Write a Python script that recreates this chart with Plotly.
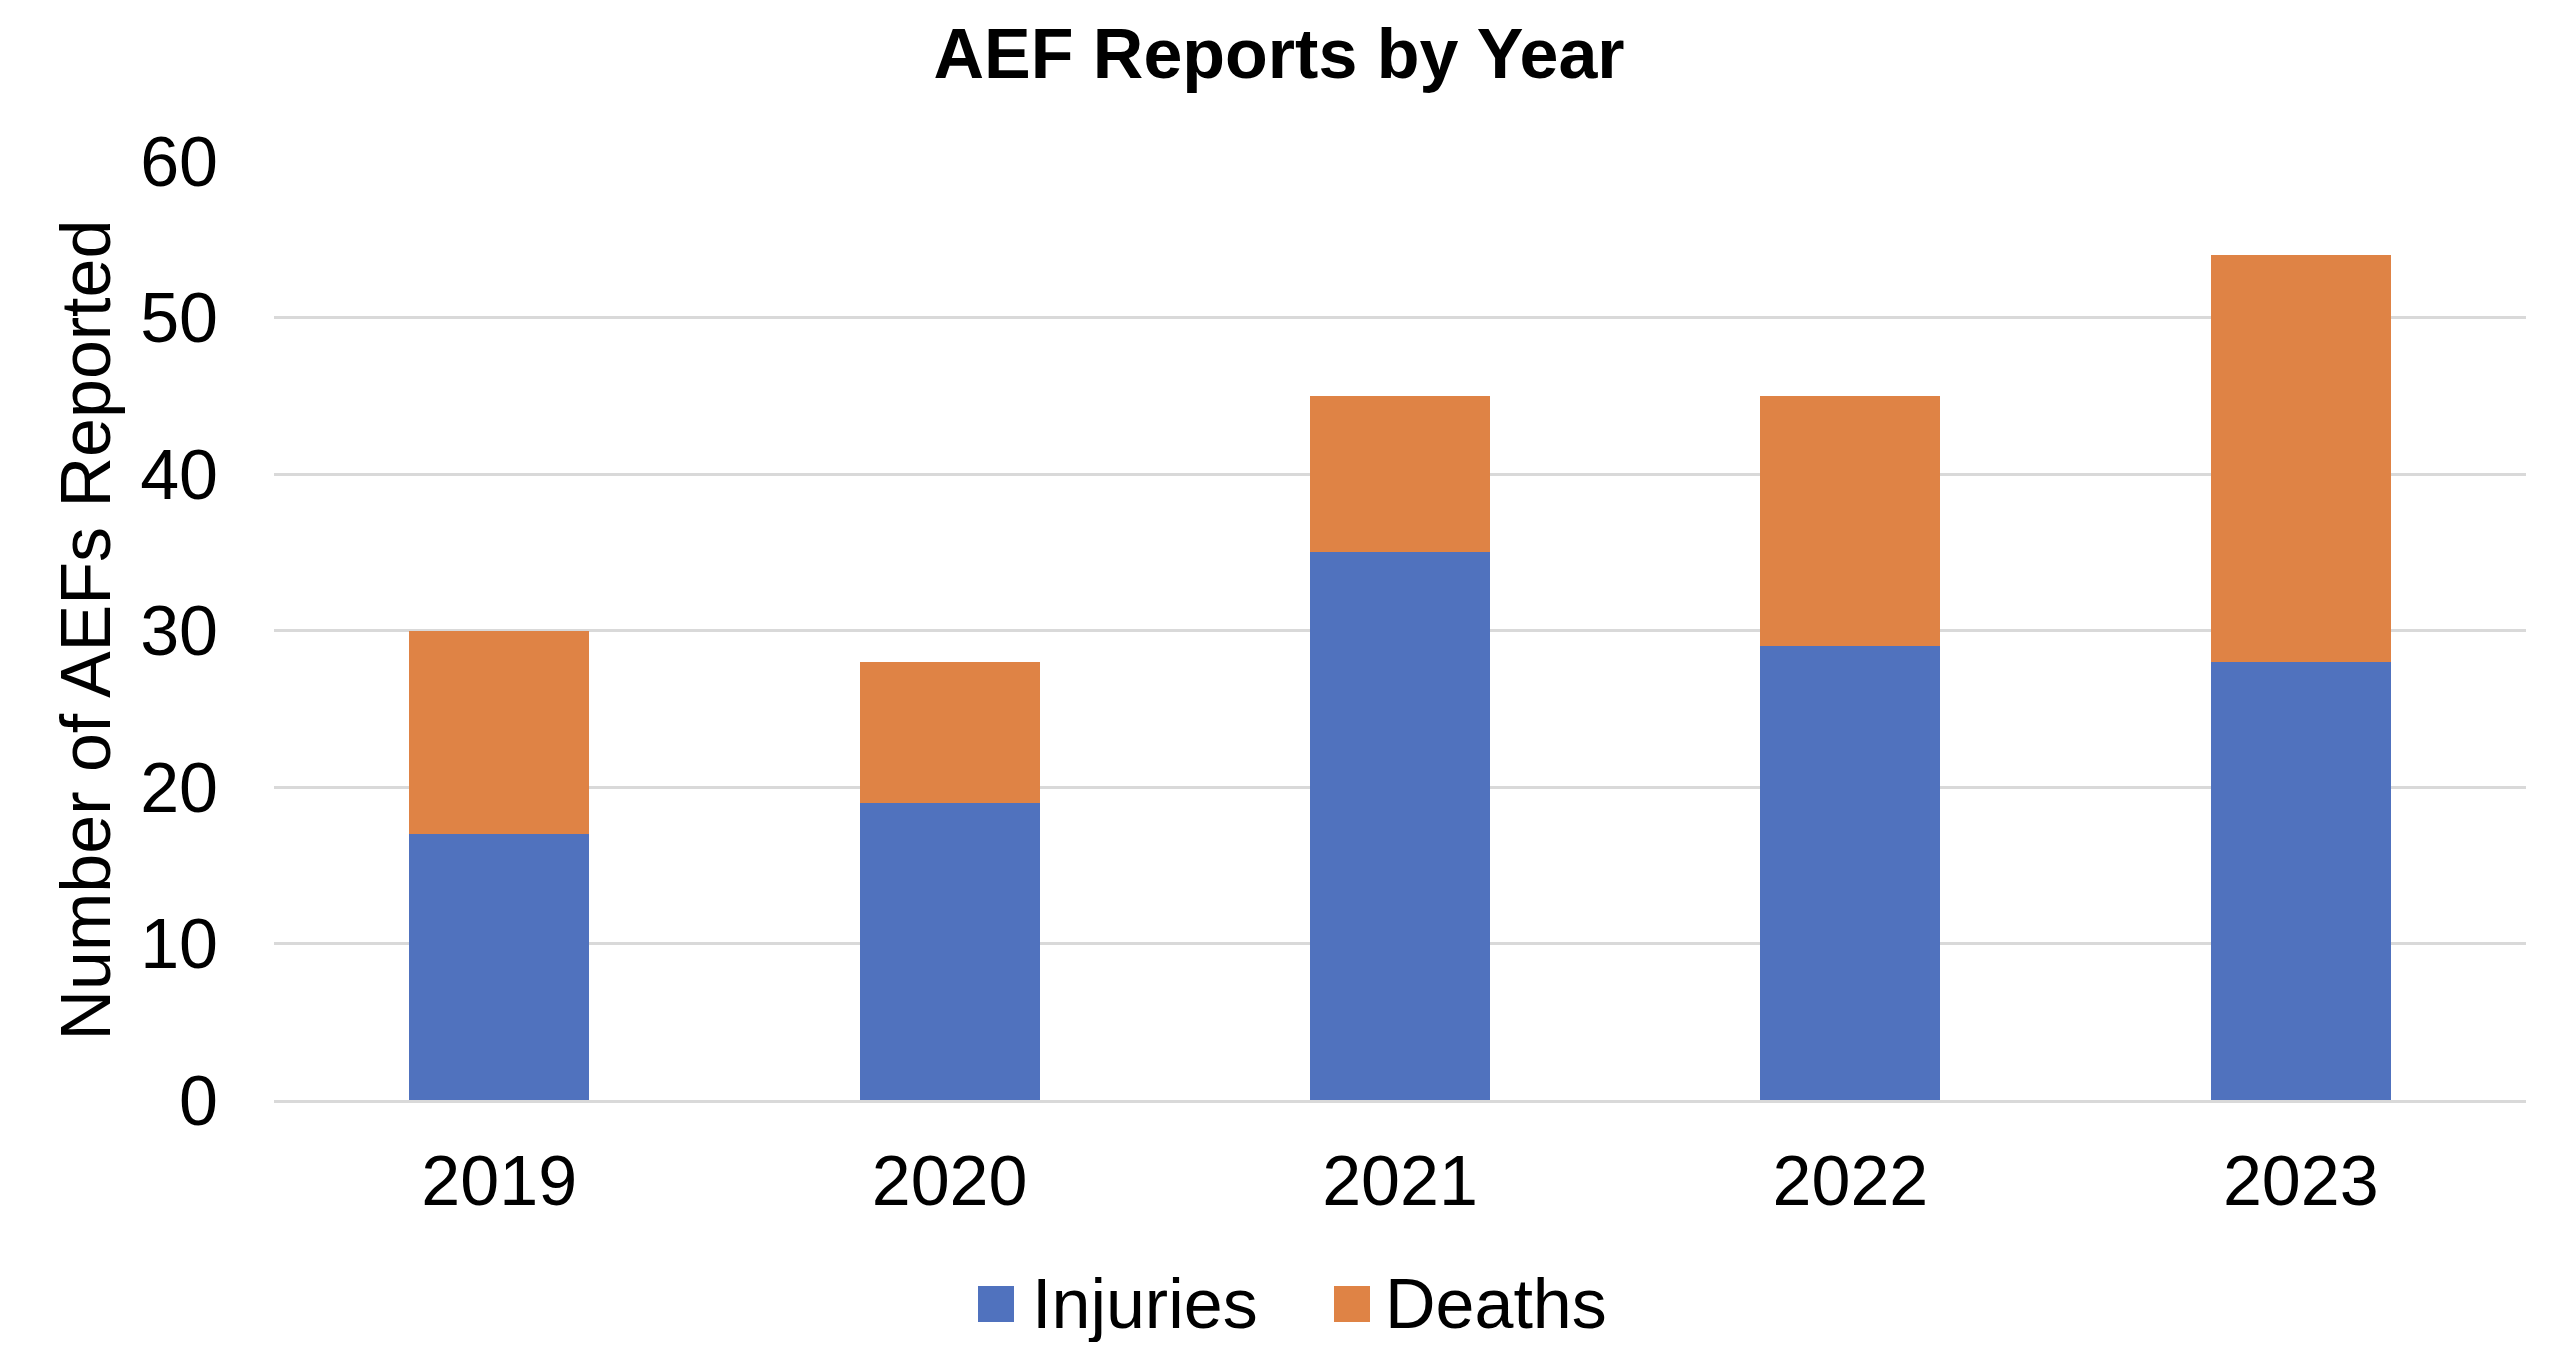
import plotly.graph_objects as go

years = ["2019", "2020", "2021", "2022", "2023"]
injuries = [17, 19, 35, 29, 28]
deaths = [13, 9, 10, 16, 26]
y_ticks = [0, 10, 20, 30, 40, 50, 60]
series_names = ["Injuries", "Deaths"]
series_colors = ["#5072BE", "#DF8345"]

FONT = "Liberation Sans, Arial, sans-serif"
OFF = 8  # page body margin
W, H = 2570 - 2 * OFF, 1350 - 2 * OFF
PL, PR, PT, PB = 274, 2526, 161, 1100  # plot box in page coords
L, R, T, B = PL - OFF, W - (PR - OFF), PT - OFF, H - (PB - OFF)


def px(X):
    return (X - PL) / (PR - PL)


def py(Y):
    return (PB - Y) / (PB - PT)


fig = go.Figure()
fig.add_trace(go.Bar(x=years, y=injuries, name=series_names[0],
                     marker=dict(color=series_colors[0], line=dict(width=0))))
fig.add_trace(go.Bar(x=years, y=deaths, name=series_names[1],
                     marker=dict(color=series_colors[1], line=dict(width=0))))

fig.update_layout(
    width=W, height=H,
    barmode="stack", bargap=0.6,
    paper_bgcolor="white", plot_bgcolor="white",
    margin=dict(l=L, r=R, t=T, b=B, autoexpand=False),
    font=dict(family=FONT, size=70, color="black"),
    title=dict(text="<b>AEF Reports by Year</b>", x=(1279 - OFF) / W, xanchor="center",
               y=1 - (53 - OFF) / H, yanchor="middle", font=dict(size=70, family=FONT, color="black")),
    showlegend=False,
)
fig.update_xaxes(showgrid=False, showline=True, linecolor="#D9D9D9", linewidth=3,
                 ticks="", ticklabelstandoff=18, tickfont=dict(size=70))
fig.update_yaxes(range=[0, 60], tickvals=y_ticks, showgrid=True, gridcolor="#D9D9D9", gridwidth=3,
                 zeroline=False, showline=False, ticks="", ticklabelstandoff=55,
                 tickfont=dict(size=70))
fig.add_annotation(text="Number of AEFs Reported", textangle=-90, xref="paper", yref="paper",
                   x=px(85), y=0.5, xanchor="center", yanchor="middle",
                   showarrow=False, font=dict(size=70, family=FONT, color="black"))

# legend (drawn manually to match large square swatches)
legend_sq_x = [978, 1334]
legend_txt_x = [1030, 1383]
for name, color, sx, tx in zip(series_names, series_colors, legend_sq_x, legend_txt_x):
    fig.add_shape(type="rect", xref="paper", yref="paper",
                  x0=px(sx), x1=px(sx + 36), y0=py(1322), y1=py(1286),
                  fillcolor=color, line=dict(width=0))
    fig.add_annotation(text=name, xref="paper", yref="paper", x=px(tx), y=py(1304),
                       xanchor="left", yanchor="middle", showarrow=False,
                       font=dict(size=70, family=FONT, color="black"))

fig.write_html("out.html")
